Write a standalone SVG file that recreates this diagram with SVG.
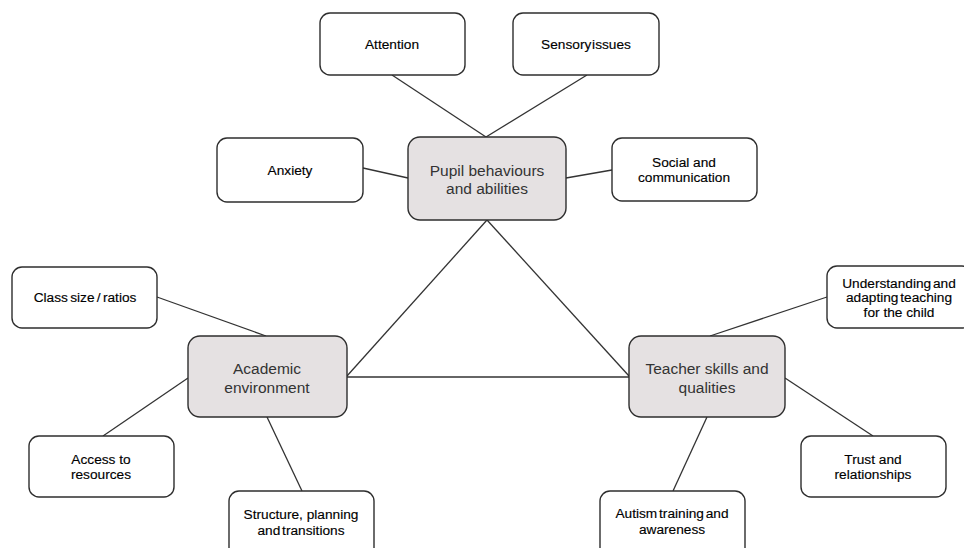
<svg xmlns="http://www.w3.org/2000/svg" width="964" height="548" viewBox="0 0 964 548">
<style>
.box{fill:#fff;stroke:#2e2e2e;stroke-width:1.4}
.hub{fill:#e5e1e2;stroke:#2e2e2e;stroke-width:1.4}
.t{font-family:"Liberation Sans",Arial,sans-serif;font-size:13.7px;fill:#000;stroke:#000;stroke-width:0.15;text-anchor:middle;dominant-baseline:central}
.h{font-family:"Liberation Sans",Arial,sans-serif;font-size:15.5px;fill:#333;text-anchor:middle;dominant-baseline:central}
.c line{stroke:#333;stroke-width:1.3}
</style>
<rect width="964" height="548" fill="#fff"/>
<g class="c" id="connectors">
<line x1="392" y1="75" x2="486" y2="137"/>
<line x1="587" y1="75" x2="486" y2="137"/>
<line x1="363" y1="168" x2="408" y2="178"/>
<line x1="566" y1="178" x2="612" y2="170"/>
<line x1="487" y1="220" x2="347" y2="376"/>
<line x1="487" y1="220" x2="629" y2="376"/>
<line x1="347" y1="377" x2="629" y2="377"/>
<line x1="157" y1="297" x2="266" y2="336"/>
<line x1="103" y1="436" x2="188" y2="378"/>
<line x1="267" y1="417" x2="302" y2="491"/>
<line x1="710" y1="336" x2="827" y2="297"/>
<line x1="785" y1="378" x2="873" y2="436"/>
<line x1="707" y1="417" x2="673" y2="491"/>
</g>
<g id="attention"><rect class="box" x="320" y="13" width="145" height="62" rx="10"/><text class="t" x="392" y="44">Attention</text></g>
<g id="sensory"><rect class="box" x="513" y="13" width="146" height="62" rx="10"/><text class="t" x="586" y="44" word-spacing="-3">Sensory issues</text></g>
<g id="anxiety"><rect class="box" x="217" y="138" width="146" height="64" rx="10"/><text class="t" x="290" y="170">Anxiety</text></g>
<g id="pupil"><rect class="hub" x="408" y="137" width="158" height="83" rx="12"/><text class="h" x="487" y="170">Pupil behaviours</text><text class="h" x="487" y="188">and abilities</text></g>
<g id="social"><rect class="box" x="612" y="138" width="145" height="63" rx="10"/><text class="t" x="684" y="162">Social and</text><text class="t" x="684" y="177">communication</text></g>
<g id="classsize"><rect class="box" x="12" y="267" width="145" height="61" rx="10"/><text class="t" x="85" y="297" word-spacing="-1.5">Class size / ratios</text></g>
<g id="academic"><rect class="hub" x="188" y="336" width="159" height="81" rx="12"/><text class="h" x="267" y="368">Academic</text><text class="h" x="267" y="387">environment</text></g>
<g id="access"><rect class="box" x="29" y="436" width="145" height="61" rx="10"/><text class="t" x="101" y="459">Access to</text><text class="t" x="101" y="474">resources</text></g>
<g id="structure"><rect class="box" x="229" y="491" width="145" height="70" rx="10"/><text class="t" x="301" y="514">Structure, planning</text><text class="t" x="301" y="530" word-spacing="-2">and transitions</text></g>
<g id="teacher"><rect class="hub" x="629" y="336" width="156" height="81" rx="12"/><text class="h" x="707" y="368">Teacher skills and</text><text class="h" x="707" y="387">qualities</text></g>
<g id="understanding"><rect class="box" x="827" y="266" width="145" height="62" rx="10"/><text class="t" x="899" y="283" word-spacing="-2">Understanding and</text><text class="t" x="899" y="297" word-spacing="-2">adapting teaching</text><text class="t" x="899" y="312">for the child</text></g>
<g id="trust"><rect class="box" x="801" y="436" width="145" height="61" rx="10"/><text class="t" x="873" y="459">Trust and</text><text class="t" x="873" y="474">relationships</text></g>
<g id="autism"><rect class="box" x="600" y="491" width="145" height="70" rx="10"/><text class="t" x="672" y="513" word-spacing="-2">Autism training and</text><text class="t" x="672" y="529">awareness</text></g>
</svg>
